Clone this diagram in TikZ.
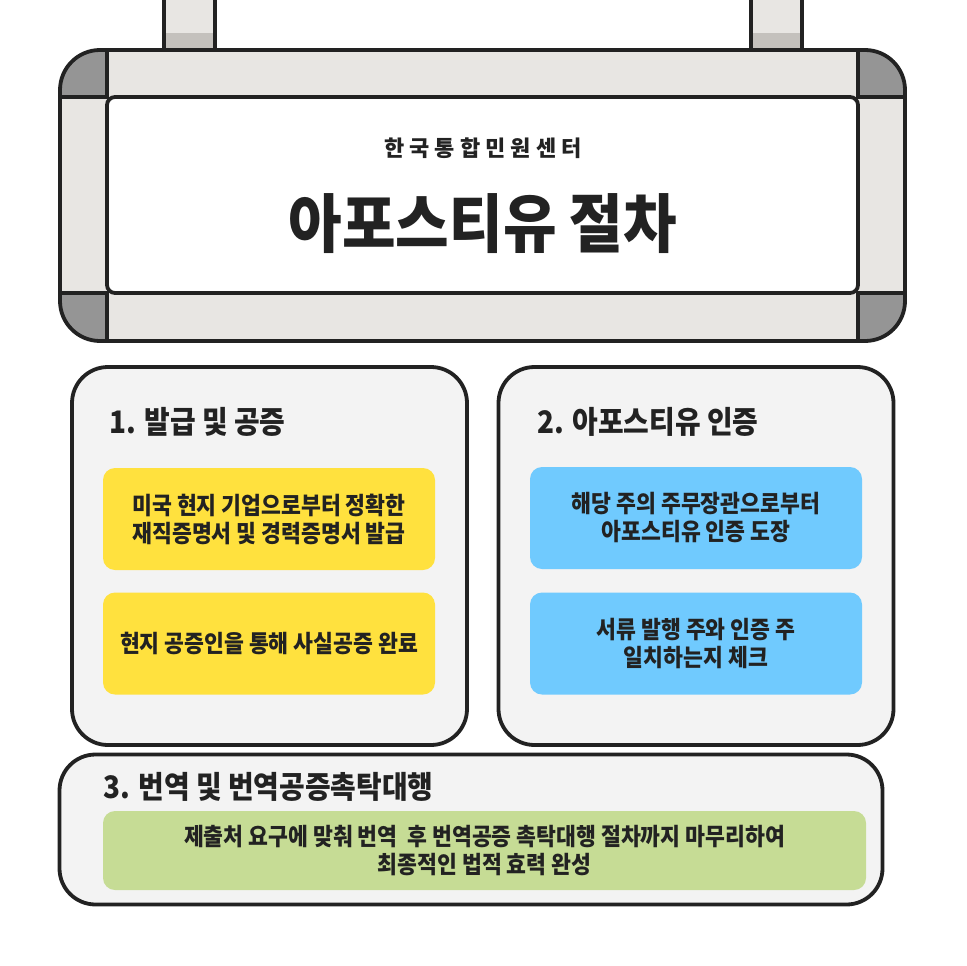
\documentclass[tikz,border=0pt]{standalone}
\usepackage{fontspec}
\usepackage{xcolor}
\usetikzlibrary{positioning}
\newfontfamily\krfont{Noto Sans CJK KR}
\newfontfamily\krtitle[FakeStretch=0.91]{Noto Sans CJK KR}
\newfontfamily\krnarrow[FakeStretch=0.9]{Noto Sans CJK KR}
\definecolor{Ink}{HTML}{222222}
\definecolor{Frame}{HTML}{E8E6E3}
\definecolor{Corner}{HTML}{959595}
\definecolor{Band}{HTML}{C4C1BD}
\definecolor{Panel}{HTML}{F3F3F3}
\definecolor{Sun}{HTML}{FFE13E}
\definecolor{Sky}{HTML}{70CAFE}
\definecolor{Leaf}{HTML}{C6DC95}

\begin{document}
\begin{tikzpicture}[x=1pt,y=-1pt,
  outline/.style={draw=Ink,line width=3.8pt},
  stepbox/.style={outline,fill=Panel,rounded corners=36pt,inner sep=0pt},
  heading/.style={anchor=west,inner sep=0pt,text=Ink,font=\krnarrow\bfseries\fontsize{31}{31}\selectfont},
  card/.style={fill=#1,rounded corners=12pt,minimum width=332pt,minimum height=102pt,
    align=center,text=Ink,font=\krnarrow\bfseries\fontsize{24}{28}\selectfont}]
  \useasboundingbox (0,0) rectangle (966,966);
  % hangers
  \foreach \hx in {164,751}
  {
    \fill[Frame] (\hx,0) rectangle ++(51,50);
    \fill[Band] (\hx,33) rectangle ++(51,17);
    \draw[outline] (\hx,0) -- ++(0,50) (\hx+51,0) -- ++(0,50);
  }
  % sign board
  \fill[Frame,rounded corners=40pt] (60,50) rectangle (905,341);
  \begin{scope}
    \clip[rounded corners=40pt] (60,50) rectangle (905,341);
    \foreach \cx/\cy in {60/50,858/50,60/293,858/293}
      \fill[Corner] (\cx,\cy) rectangle ++(47,48);
  \end{scope}
  \draw[outline] (60,97) -- (107,97) -- (107,50) (858,50) -- (858,97) -- (905,97)
    (60,293) -- (107,293) -- (107,341) (905,293) -- (858,293) -- (858,341);
  \node[outline,fill=white,rounded corners=8pt,minimum width=751pt,minimum height=196pt] (board) at (482.5,195) {};
  \draw[outline,rounded corners=40pt] (60,50) rectangle (905,341);
  \node[text=Ink,font=\krfont\bfseries\fontsize{22}{22}\selectfont] (center) at (483,148) {한 국 통 합 민 원 센 터};
  \node[text=Ink,font=\krtitle\bfseries\fontsize{64}{64}\selectfont] (title) at (483,224) {아포스티유 절차};

  % steps
  \node[stepbox,minimum width=395pt,minimum height=378pt] (issue) at (269.5,556) {};
  \node[stepbox,minimum width=395pt,minimum height=378pt] (apost) at (696,556) {};
  \node[stepbox,minimum width=823pt,minimum height=150pt] (trans) at (471,829.5) {};
  \node[heading] (issuehead) at (109,422) {1. 발급 및 공증};
  \node[heading] (aposthead) at (537,422) {2. 아포스티유 인증};
  \node[heading] (transhead) at (103,787) {3. 번역 및 번역공증촉탁대행};

  \node[card=Sun] (certs) at (269,519) {미국 현지 기업으로부터 정확한\\재직증명서 및 경력증명서 발급};
  \node[card=Sun] (notary) at (269,643.5) {현지 공증인을 통해 사실공증 완료};
  \node[card=Sky] (seal) at (696,518) {해당 주의 주무장관으로부터\\아포스티유 인증 도장};
  \node[card=Sky] (check) at (696,643.5) {서류 발행 주와 인증 주\\일치하는지 체크};
  \node[card=Leaf,minimum width=763pt,minimum height=79pt] (finish) at (484.5,850.5)
    {제출처 요구에 맞춰 번역\ \ 후 번역공증 촉탁대행 절차까지 마무리하여\\최종적인 법적 효력 완성};
\end{tikzpicture}
\end{document}
